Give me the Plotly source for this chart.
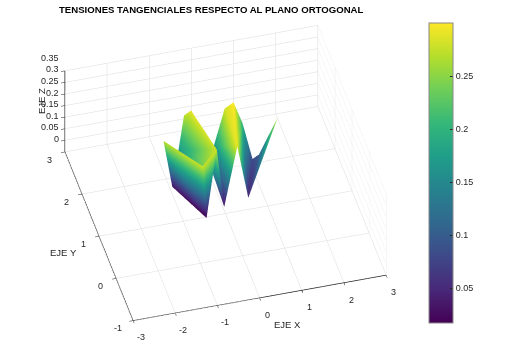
import plotly.graph_objects as go

TITLE = "TENSIONES TANGENCIALES RESPECTO AL PLANO ORTOGONAL"
x_values = [-1.28, -1.0, -0.66, -0.49, -0.83, -0.6, -0.44, -0.2, -0.23, -0.03, 0.0, 0.34, 0.55, 0.26, 0.77, 0.54, 0.92, 1.06, 1.46, -0.609]
y_values = [1.47, 1.65, 0.70, 0.9, 1.71, 1.95, 1.93, 1.02, 1.25, 1.0, 1.68, 1.89, 1.89, 0.95, 1.9, 1.0, 1.69, 1.66, 1.54, 0.714]
z_values = [0.27, 0.03, 0.28, 0.015, 0.17, 0.27, 0.29, 0.28, 0.15, 0.03, 0.17, 0.28, 0.30, 0.29, 0.20, 0.05, 0.08, 0.10, 0.27, 0.25]
tri_i = [0, 0, 4, 4, 4, 2, 7, 7, 10, 10, 11, 12, 13, 14, 15, 15]
tri_j = [1, 3, 5, 6, 7, 3, 8, 10, 9, 11, 12, 13, 14, 15, 16, 17]
tri_k = [3, 2, 6, 7, 19, 7, 9, 9, 13, 13, 13, 14, 15, 16, 17, 18]
colorbar_ticks = [0.05, 0.10, 0.15, 0.20, 0.25]
colorbar_labels = ["0.05", "0.1", "0.15", "0.2", "0.25"]
x_ticks = [-3, -2, -1, 0, 1, 2, 3]
y_ticks = [-1, 0, 1, 2, 3]
z_ticks = [0, 0.05, 0.1, 0.15, 0.2, 0.25, 0.3, 0.35]
z_labels = ["0", "0.05", "0.1", "0.15", "0.2", "0.25", "0.3", "0.35"]

W, H = 512, 358
FONT = "Liberation Sans"
INK = "#262626"

fig = go.Figure(go.Mesh3d(
    x=x_values, y=y_values, z=z_values, i=tri_i, j=tri_j, k=tri_k,
    intensity=z_values, colorscale="Viridis", cmin=0.017, cmax=0.30,
    flatshading=False,
    lighting=dict(ambient=1, diffuse=0, specular=0, roughness=1, fresnel=0),
    colorbar=dict(
        x=429 / W, xanchor="left", y=1 - 323 / H, yanchor="bottom",
        len=300 / H, lenmode="fraction", thickness=24, thicknessmode="pixels",
        outlinecolor="#888888", outlinewidth=1,
        tickmode="array", tickvals=colorbar_ticks, ticktext=colorbar_labels,
        ticks="inside", ticklen=3, tickcolor=INK,
        tickfont=dict(family=FONT, size=9, color=INK), xpad=0, ypad=0,
    ),
))

def axis(rng, ticks):
    return dict(range=rng, autorange=False, title=dict(text=""), showbackground=False,
                showgrid=True, gridcolor="#dcdcdc", gridwidth=1, zeroline=False,
                showline=True, linecolor="#222222", linewidth=1.5,
                ticks="outside", ticklen=4, tickcolor="#222222", showticklabels=False,
                tickmode="array", tickvals=ticks, showspikes=False)

def tick_note(x, y, z, text, dx, dy, anchor="center"):
    return dict(x=x, y=y, z=z, text=text, showarrow=False, xanchor=anchor, yanchor="middle",
                xshift=dx, yshift=dy, font=dict(family=FONT, size=9, color=INK))

notes = [tick_note(v, -1, 0, str(v), 8, -17) for v in x_ticks]
notes += [tick_note(-3, v, 0, str(v), -15, -8) for v in y_ticks]
notes += [tick_note(-3, 3, v, t, -4, 13, "right") for v, t in zip(z_ticks, z_labels)]

s = 1.18
a = 1.515
fig.update_layout(
    width=W, height=H, margin=dict(l=0, r=0, t=0, b=0),
    paper_bgcolor="white", showlegend=False,
    scene=dict(
        domain=dict(x=[0, 0.88], y=[0.034, 1]),
        xaxis=axis([-3, 3], x_ticks),
        yaxis=axis([-1, 3], y_ticks),
        zaxis=axis([0, 0.35], z_ticks),
        aspectmode="manual", aspectratio=dict(x=a, y=a, z=0.415 * a),
        camera=dict(eye=dict(x=-0.194 * s, y=-0.72 * s, z=0.667 * s), up=dict(x=0, y=0, z=1),
                    center=dict(x=0, y=0, z=0), projection=dict(type="orthographic")),
        annotations=notes,
    ),
    annotations=[
        dict(text=f"<b>{TITLE}</b>", x=211 / W, y=1 - 9 / H, xref="paper", yref="paper", showarrow=False,
             xanchor="center", yanchor="middle", font=dict(family=FONT, size=9.6, color="black")),
        dict(text="EJE X", x=287 / W, y=1 - 324 / H, xref="paper", yref="paper", showarrow=False,
             xanchor="center", yanchor="middle", font=dict(family=FONT, size=9.5, color=INK)),
        dict(text="EJE Y", x=63 / W, y=1 - 252 / H, xref="paper", yref="paper", showarrow=False,
             xanchor="center", yanchor="middle", font=dict(family=FONT, size=9.5, color=INK)),
        dict(text="EJE Z", x=41 / W, y=1 - 101 / H, xref="paper", yref="paper", showarrow=False, textangle=-90,
             xanchor="center", yanchor="middle", font=dict(family=FONT, size=9.5, color=INK)),
    ],
)
fig.write_html("out.html", config=dict(displayModeBar=False),
               post_script="document.body.style.margin='0';document.documentElement.style.overflow='hidden';")
